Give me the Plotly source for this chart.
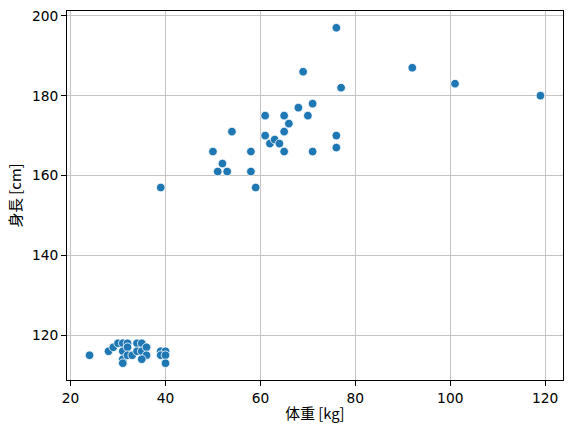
import plotly.graph_objects as go

weight_kg = [24, 28, 29, 30, 31, 32, 31, 31, 31, 32, 32, 33, 34, 35, 34, 35, 36, 36, 35, 39, 40, 39, 40, 40,
             39, 50, 51, 52, 53, 54, 58, 58, 59, 61, 61, 62, 63, 64, 65, 65, 65, 66, 68, 69, 70, 71, 71,
             76, 76, 76, 77, 92, 101, 119]
height_cm = [115, 116, 117, 118, 118, 118, 116, 114, 113, 117, 115, 115, 118, 118, 116, 116, 117, 115, 114, 116, 116, 115, 115, 113,
             157, 166, 161, 163, 161, 171, 166, 161, 157, 175, 170, 168, 169, 168, 166, 171, 175, 173, 177, 186, 175, 178, 166,
             170, 167, 197, 182, 187, 183, 180]

x_ticks = [20, 40, 60, 80, 100, 120]
y_ticks = [120, 140, 160, 180, 200]

fig = go.Figure()
fig.add_trace(go.Scatter(
    x=weight_kg, y=height_cm, mode="markers",
    marker=dict(color="#1f77b4", size=8.6, line=dict(color="white", width=0.8)),
    showlegend=False,
))

axis_common = dict(
    showline=True, linecolor="black", linewidth=1, mirror=True,
    ticks="outside", ticklen=5, tickwidth=1, tickcolor="black",
    showgrid=True, gridcolor="#c4c4c4", gridwidth=0.8,
    zeroline=False, automargin=False,
    tickfont=dict(family="DejaVu Sans", size=13.8, color="black"),
)

title_font = dict(family="Noto Sans CJK JP", size=14.8, color="black")

fig.update_layout(
    width=572, height=434,
    margin=dict(l=67, r=9, t=11, b=54),
    paper_bgcolor="white", plot_bgcolor="white",
    xaxis=dict(range=[19.25, 123.75], tickvals=x_ticks,
               title=dict(text="体重 [kg]", font=title_font, standoff=4),
               **axis_common),
    yaxis=dict(range=[108.8, 201.2], tickvals=y_ticks,
               title=dict(text="身長 [cm]", font=title_font, standoff=6),
               **axis_common),
)

fig.write_html("out.html", config={"displayModeBar": False},
               post_script="document.body.style.margin='0';document.body.style.padding='0';")
